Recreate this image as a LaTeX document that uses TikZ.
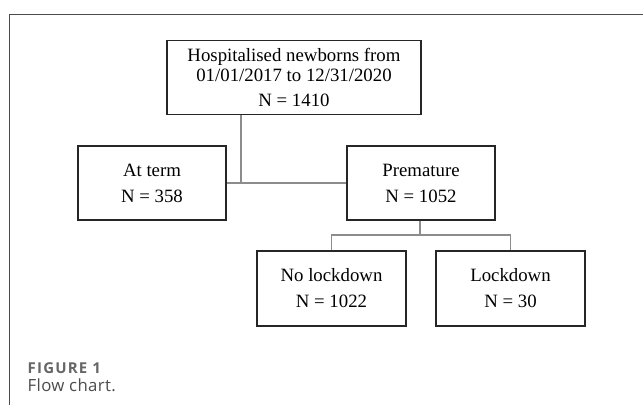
\documentclass[tikz,border=0pt]{standalone}
\usepackage{fontspec}
\setmainfont{Liberation Serif}
\newfontfamily\capfont[LetterSpace=2]{Open Sans}
\newfontfamily\figfont[LetterSpace=8]{Open Sans}
\begin{document}
\begin{tikzpicture}[x=1pt,y=-1pt,
  box/.style={draw=black!85,line width=1.4pt,inner sep=0pt,align=center,
    font=\fontsize{18.8}{26}\selectfont},
  link/.style={draw=black!45,line width=1.1pt},
  frame/.style={draw=black!70,line width=1pt}]
\useasboundingbox (0,0) rectangle (643,405);
\draw[frame] (9,405) -- (9,14) -- (643,14);
\node[box,font=\fontsize{18.8}{20}\selectfont,minimum width=254pt,minimum height=74pt] (top) at (294,77.5)
  {Hospitalised newborns from\\01/01/2017 to 12/31/2020\\[5.5pt]N = 1410};
\node[box,minimum width=148pt,minimum height=74pt] (term) at (152,183) {At term\\N = 358};
\node[box,minimum width=148pt,minimum height=74pt] (prem) at (421,183) {Premature\\N = 1052};
\node[box,minimum width=149pt,minimum height=75pt] (nolock) at (331.5,288.5) {No lockdown\\N = 1022};
\node[box,minimum width=149pt,minimum height=75pt] (lock) at (510.5,288.5) {Lockdown\\N = 30};
\coordinate (j1) at (241,183);
\coordinate (j2) at (420,235);
\draw[link] (top.south -| j1) -- (j1);
\draw[link] (term.east) -- (prem.west);
\draw[link] (prem.south -| j2) -- (j2);
\draw[link] (nolock.north) |- (j2) -| (lock.north);
\node[anchor=base west,inner sep=0pt,text=black!60,font=\figfont\bfseries\fontsize{15}{17}\selectfont] (fig) at (27.5,373.3) {FIGURE 1};
\node[anchor=base west,inner sep=0pt,text=black!70,font=\capfont\fontsize{16.8}{20}\selectfont] (cap) at (27.5,391) {Flow chart.};
\end{tikzpicture}
\end{document}
